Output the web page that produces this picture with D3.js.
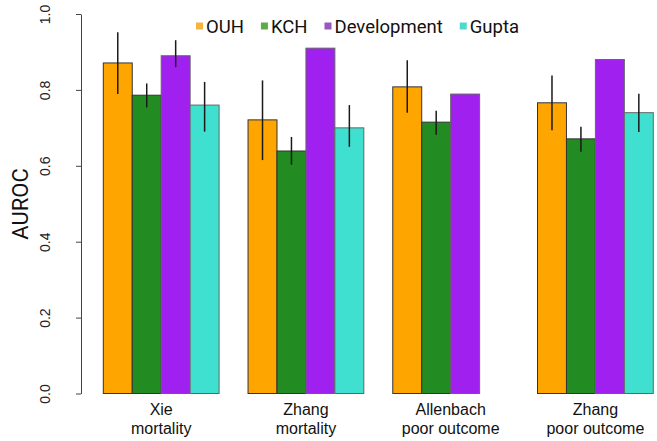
<!DOCTYPE html>
<html>
<head>
<meta charset="utf-8">
<script src="https://cdn.jsdelivr.net/npm/d3@7"></script>
<style>
  body { margin: 0; background: #fff; }
  svg { display: block; }
</style>
</head>
<body>
<svg id="chart" width="657" height="441"></svg>
<script>
// data
const categories = ['Xie\nmortality', 'Zhang\nmortality', 'Allenbach\npoor outcome', 'Zhang\npoor outcome'];
const series = ['OUH', 'KCH', 'Development', 'Gupta'];
const barColors = ['#ffa500', '#228b22', '#a020f0', '#40e0d0'];
const legendColors = ['#f5b342', '#5aad46', '#9558c4', '#4ed9cf'];

// auroc per category, one array per series (null = no bar)
const ouh = [0.871, 0.721, 0.808, 0.766];
const kch = [0.786, 0.639, 0.715, 0.671];
const dev = [0.890, 0.910, 0.789, 0.880];
const gupta = [0.760, 0.700, null, 0.740];

// confidence intervals (low, high)
const ouhLo = [0.789, 0.615, 0.740, 0.694];
const ouhHi = [0.952, 0.825, 0.878, 0.838];
const kchLo = [0.754, 0.603, 0.682, 0.637];
const kchHi = [0.817, 0.676, 0.745, 0.703];
const devLo = [0.860, null, null, null];
const devHi = [0.931, null, null, null];
const guptaLo = [0.690, 0.650, null, 0.689];
const guptaHi = [0.821, 0.760, null, 0.790];

const yTicks = [0, 0.2, 0.4, 0.6, 0.8, 1.0];

const vals = [ouh, kch, dev, gupta];
const los = [ouhLo, kchLo, devLo, guptaLo];
const his = [ouhHi, kchHi, devHi, guptaHi];

const rows = [];
categories.forEach(function(c, ci) {
  series.forEach(function(s, si) {
    rows.push({cat: c, ser: s, si: si, v: vals[si][ci], lo: los[si][ci], hi: his[si][ci]});
  });
});

const svg = d3.select('#chart');

const y = d3.scaleLinear().domain([0, 1]).range([393.5, 14]);
const x0 = d3.scaleBand().domain(categories).range([103.3, 653.3]).paddingInner(0.2).paddingOuter(0);
const x1 = d3.scaleBand().domain(series).range([0, x0.bandwidth()]);

// bars
svg.append('g').selectAll('rect')
  .data(rows.filter(d => d.v != null))
  .enter().append('rect')
  .attr('x', d => x0(d.cat) + x1(d.ser))
  .attr('y', d => y(d.v))
  .attr('width', x1.bandwidth())
  .attr('height', d => y(0) - y(d.v))
  .attr('fill', d => barColors[d.si])
  .attr('stroke', d => d.si >= 2 ? '#666' : '#333')
  .attr('stroke-width', 1);

// error bars
svg.append('g').selectAll('line')
  .data(rows.filter(d => d.lo != null))
  .enter().append('line')
  .attr('x1', d => x0(d.cat) + x1(d.ser) + x1.bandwidth() / 2)
  .attr('x2', d => x0(d.cat) + x1(d.ser) + x1.bandwidth() / 2)
  .attr('y1', d => y(d.lo))
  .attr('y2', d => y(d.hi))
  .attr('stroke', '#1a1a1a')
  .attr('stroke-width', 1.5);

// y axis
const yAxis = svg.append('g')
  .attr('transform', 'translate(81,0)')
  .call(d3.axisLeft(y).tickValues(yTicks).tickFormat(d3.format('.1f')).tickSize(5).tickSizeOuter(0));
yAxis.select('.domain').attr('stroke', '#444');
yAxis.selectAll('.tick line').attr('stroke', '#444');
yAxis.selectAll('.tick text')
  .attr('x', null).attr('dy', null)
  .attr('text-anchor', 'middle')
  .attr('transform', 'translate(-31,0) rotate(-90)')
  .style('font-family', '"Liberation Sans", Arial, sans-serif')
  .style('font-size', '14px')
  .attr('fill', '#222');

svg.append('text')
  .attr('transform', 'translate(28,204) rotate(-90)')
  .attr('text-anchor', 'middle')
  .style('font-family', 'Roboto, sans-serif')
  .style('font-size', '22px')
  .attr('fill', '#111')
  .text('AUROC');

// category labels
const catLab = svg.append('g').selectAll('text')
  .data(categories)
  .enter().append('text')
  .attr('text-anchor', 'middle')
  .style('font-family', '"Liberation Sans", Arial, sans-serif')
  .style('font-size', '16px')
  .attr('fill', '#111');
catLab.selectAll('tspan')
  .data(d => d.split('\n').map(t => ({t: t, c: d})))
  .enter().append('tspan')
  .attr('x', d => x0(d.c) + x0.bandwidth() / 2)
  .attr('y', (d, i) => 415 + i * 19)
  .text(d => d.t);

// legend
const leg = svg.append('g');
let lx = 196;
series.forEach(function(s, i) {
  leg.append('rect')
    .attr('x', lx).attr('y', 22.5)
    .attr('width', 7).attr('height', 7)
    .attr('fill', legendColors[i]);
  const t = leg.append('text')
    .attr('x', lx + 10).attr('y', 32.7)
    .style('font-family', 'Roboto, sans-serif')
    .style('font-size', '18.5px')
    .attr('fill', '#111')
    .text(s);
  lx += 10 + t.node().getComputedTextLength() + 17;
});
</script>
</body>
</html>
